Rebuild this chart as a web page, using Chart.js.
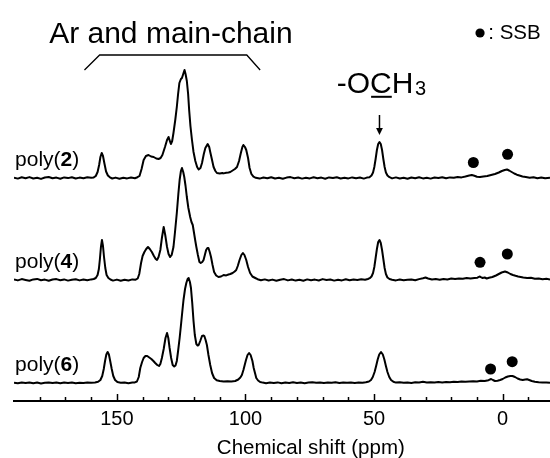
<!DOCTYPE html>
<html>
<head>
<meta charset="utf-8">
<script src="https://cdn.jsdelivr.net/npm/chart.js@4.4.1/dist/chart.umd.min.js"></script>
<style>
  body { margin: 0; background: #fff; }
  canvas { display: block; }
</style>
</head>
<body>
<canvas id="nmrChart" width="550" height="458"></canvas>
<script>
// Spectra as [chemical shift (ppm), intensity above the trace baseline]
const poly2 = [
    [190, 0.4], [188.5, -0.6], [187, 0.7], [185.5, -0.2], [184, 0.9], [182.5, -0.5], [181, 0.3], [179.5, -0.9],
    [178, 0.5], [176.5, 1.0], [175, -0.3], [173.5, 0.4], [172, -0.7], [170.5, 0.6], [169, -0.1], [167.5, 0.8],
    [166, -0.5], [164.5, 0.4], [163, -0.3], [161.5, 0.7], [160, 0.2],
    [159, 0.6], [158.2, 2], [157.5, 6], [156.9, 13], [156.4, 21], [155.9, 25], [155.4, 22], [154.8, 14],
    [154.2, 6.5], [153.5, 2.5], [152.7, 0.7],
    [151.8, -0.5], [150.5, 0.4], [149, -0.7], [147.5, 0.3], [146, -0.4], [144.5, 0.5], [143, -0.2], [142, 0.8],
    [141.2, 2], [140.4, 9], [139.6, 18], [138.7, 22], [137.7, 23], [136.7, 21.5], [135.7, 21], [134.7, 19.5],
    [133.8, 19], [133, 20], [132.3, 23], [131.3, 31], [130.5, 38], [129.9, 41], [129.4, 37], [129, 34],
    [128.5, 37], [128, 45], [127.3, 58], [126.7, 71], [126.2, 84], [125.7, 95], [125.1, 99], [124.7, 100],
    [124.2, 104], [123.7, 108], [123.3, 104], [122.8, 97], [122.3, 84], [121.9, 68], [121.4, 52], [120.8, 38],
    [120.2, 26], [119.5, 17], [118.8, 11], [118.2, 8.5], [117.5, 10], [116.9, 15], [116.2, 24], [115.6, 30],
    [114.7, 34], [114.1, 31], [113.7, 26], [113, 18], [112.4, 11], [111.7, 7], [111.1, 5], [110, 4.5],
    [109, 5], [108.5, 4.6], [107.5, 5.2], [106.6, 5.5], [105.9, 6], [105, 7.5], [104.1, 9], [103.3, 11],
    [102.5, 17], [101.8, 25], [101.2, 31], [100.8, 33], [100.2, 31], [99.7, 28], [99, 20], [98.4, 10],
    [97.7, 4], [96.9, 1.3], [96, 0.2],
    [94.5, -0.6], [93, 0.5], [91.5, -0.3], [90, 0.8], [88.5, -0.5], [87, 0.2], [85.5, -0.8], [84, 0.4],
    [82.5, 0.9], [81, -0.2], [79.5, 0.5], [78, -0.6], [76.5, 0.3], [75, -0.4], [73.5, 0.7], [72, -0.3],
    [70.5, 0.4], [69, -0.7], [67.5, 0.6], [66, 0], [64.5, 0.8], [63, -0.5], [61.5, 0.3], [60, -0.4],
    [58.5, 0.6], [57, -0.2], [55.5, 0.5], [54, -0.6], [52.8, 0.4],
    [51.8, 0.8], [51, 2.5], [50.4, 5.5], [49.9, 11], [49.4, 19], [48.9, 28], [48.4, 34], [47.9, 36],
    [47.4, 34], [46.9, 28], [46.4, 19], [45.9, 11], [45.4, 5.5], [44.8, 2.5], [44, 0.8],
    [43, -0.4], [41.5, 0.6], [40, -0.5], [38.5, 0.3], [37, -0.7], [35.5, 0.5], [34, -0.2], [32.5, 0.7],
    [31, -0.4], [29.5, 0.3], [28, -0.6], [26.5, 0.5], [25, 0], [23.5, 0.8], [22, -0.3], [20.5, 0.6],
    [19, 0.2], [17.5, 0.9], [16, 0.6],
    [14.5, 1.5], [13, 2.5], [12, 3], [11, 2.3], [10, 1.3], [8.8, 0.9], [7.5, 1.5],
    [6, 2], [4.5, 3], [3, 4], [1.5, 5.5], [0.3, 7], [-0.8, 8], [-1.7, 8.5], [-2.5, 7.5],
    [-3.5, 6], [-4.5, 4.5], [-5.5, 3.3], [-6.5, 2.5], [-7.7, 1.5], [-9, 1], [-10.5, 0.3], [-12, 0.8],
    [-13.5, -0.2], [-15, 0.5], [-16.5, -0.3], [-18.4, 0.3]
];

const poly4 = [
    [190, 0.5], [188.5, -0.4], [187, 0.9], [185.5, 0.1], [184, -0.7], [182.5, 0.6], [181, 1.1], [179.5, -0.3],
    [178, 0.4], [176.5, -0.8], [175, 0.5], [173.5, 0.9], [172, -0.2], [170.5, 0.6], [169, -0.6], [167.5, 0.3],
    [166, 0.8], [164.5, -0.4], [163, 0.5], [161.5, -0.3], [160, 0.6], [159, 1],
    [158.2, 2], [157.5, 5], [157, 11], [156.6, 21], [156.2, 33], [155.8, 40], [155.4, 34], [155, 23],
    [154.5, 12], [154, 5], [153.3, 2], [152.5, 0.5],
    [151.5, -0.6], [150, 0.4], [148.5, -0.8], [147, 0.2], [145.5, -0.5], [144, 0.6], [142.7, 0.3], [141.9, 1.5],
    [141.3, 6], [140.6, 17], [140, 24], [139.3, 28], [138.6, 31], [137.9, 33], [137.2, 31], [136.4, 28],
    [135.6, 24], [134.9, 21], [134.4, 20], [133.8, 23], [133.1, 30], [132.5, 42], [131.8, 53], [131.2, 45],
    [130.5, 33], [129.9, 26], [129.3, 23], [128.7, 25], [128, 33], [127.4, 48], [126.7, 67], [126.1, 86],
    [125.6, 100], [125.1, 109], [124.7, 112], [124.2, 108], [123.8, 103], [123.3, 94], [122.8, 83], [122.2, 72],
    [121.5, 63], [121, 58], [120.5, 55], [120, 47], [119.5, 39], [119.1, 33], [118.5, 25], [117.9, 18],
    [117.4, 17], [116.8, 18], [116.3, 20], [115.8, 25], [115.3, 30], [114.8, 32], [114.4, 32], [113.9, 28],
    [113.4, 23], [112.8, 15], [112.2, 8], [111.4, 4.5], [110.5, 3], [109.5, 3.5], [108.5, 5], [107.5, 4.6],
    [106.6, 5.5], [105.9, 6], [105, 7], [104.2, 8.5], [103.6, 10], [103, 14], [102.3, 20], [101.6, 25],
    [101, 27], [100.4, 25], [99.7, 20], [99, 13], [98.2, 7], [97.3, 3.5], [96.2, 2], [95.3, 0.8],
    [94, -0.3], [92.5, 0.6], [91, -0.5], [89.5, 0.4], [88, -0.8], [86.5, 0.3], [85, 0.9], [83.5, -0.4],
    [82, 0.5], [80.5, -0.6], [79, 0.2], [77.5, -0.7], [76, 0.6], [74.5, -0.3], [73, 0.4], [71.5, -0.5],
    [70, 0.9], [68.5, 0], [67, 0.5], [65.5, -0.6], [64, 0.3], [62.5, -0.4], [61, 0.7], [59.5, -0.3],
    [58, 0.5], [56.5, 0.1], [55, 0.7], [53.5, 0.3], [52.4, 1],
    [51.7, 1.8], [51, 3.5], [50.4, 7], [49.9, 13], [49.4, 22], [48.9, 31], [48.4, 38], [47.9, 40],
    [47.4, 37], [46.9, 30], [46.4, 21], [45.9, 12], [45.4, 6], [44.8, 2.5], [44, 1],
    [43, 0.3], [41.5, -0.4], [40, 0.5], [38.5, -0.3], [37, 0.2], [35.5, 0.6], [34, -0.2], [32.5, 0.9],
    [31, 1.8], [30, 2.5], [29, 1.5], [27.5, 0.5], [26, 0.9], [24.5, 0.3], [23, 1.1], [21.5, 0.6],
    [20, 1.4], [18.5, 1], [17, 1.6], [15.5, 1.2], [14, 1.9], [12.5, 1.5], [11, 2], [9.8, 2.3],
    [9, 3.5], [8.5, 2.8], [7.8, 2], [7, 2.5], [6.2, 1.5], [5.3, 2.2], [4, 3], [2.6, 4.5],
    [1.5, 6], [0.4, 7.5], [-0.9, 8.5], [-2, 7.5], [-3, 6], [-4, 5], [-5, 4.2], [-6, 3.5],
    [-7, 3], [-8, 2.5], [-9.5, 2], [-11, 2.2], [-12.5, 1.3], [-14, 1.6], [-15.5, 0.8], [-17, 1.2], [-18.4, 0.6]
];

const poly6 = [
    [190, 0.3], [188.5, -0.3], [187, 0.5], [185.5, 0], [184, 0.6], [182.5, -0.2], [181, 0.4], [179.5, -0.4],
    [178, 0.3], [176.5, 0.6], [175, -0.1], [173.5, 0.4], [172, -0.3], [170.5, 0.5], [169, 0.1], [167.5, 0.6],
    [166, -0.2], [164.5, 0.3], [163, 0], [161.5, 0.5], [160, 0.2], [158.5, 0.6],
    [157.3, 1.2], [156.4, 3], [155.7, 7], [155.1, 14], [154.6, 22], [154.1, 28.5], [153.6, 31], [153.1, 28.5],
    [152.6, 22], [152, 14], [151.4, 7], [150.7, 3], [149.8, 1],
    [148.5, 0.2], [147, 0.5], [145.5, -0.2], [144, 0.4], [143, 0.6], [142.2, 1.5],
    [141.5, 6], [140.9, 15], [140.2, 21], [139.6, 25], [138.9, 27], [138.2, 27], [137.4, 25.5], [136.6, 24],
    [135.8, 22], [135.1, 20], [134.3, 18], [133.6, 17], [133.1, 19], [132.5, 25], [131.8, 34], [131.1, 45],
    [130.5, 50], [130, 45], [129.5, 35], [128.9, 25], [128.3, 18], [127.7, 16.5], [127.2, 17.5], [126.7, 22],
    [126.2, 32], [125.6, 45], [125, 60], [124.5, 73], [124.1, 83], [123.5, 94], [123, 100], [122.5, 104],
    [122.1, 105], [121.6, 101], [121.2, 95], [120.7, 80], [120.2, 62], [119.7, 48], [119.1, 39], [118.6, 37.5],
    [118.2, 38], [117.6, 42], [116.9, 47], [116.3, 47.5], [116, 47], [115.5, 43], [115, 38], [114.4, 28],
    [113.7, 18], [113, 10], [112.2, 5], [111.2, 2.8], [110, 2], [108.5, 1.5], [107, 1.8], [105.5, 1.5],
    [104, 2], [102.8, 3.5], [102, 5.5], [101.4, 8], [100.8, 13], [100.3, 18], [99.8, 23], [99.2, 28],
    [98.6, 30], [98, 28], [97.3, 22], [96.8, 15], [96.2, 9], [95.8, 5], [95.1, 2.5], [94.3, 1], [93.3, 0.4],
    [92, -0.2], [90.5, 0.5], [89, 0], [87.5, 0.6], [86, -0.3], [84.5, 0.4], [83, 0.1], [81.5, 0.7],
    [80, 0], [78.5, 0.5], [77, -0.2], [75.5, 0.4], [74, 0.8], [72.5, 0.2], [71, 0.6], [69.5, -0.1],
    [68, 0.5], [66.5, 0.2], [65, 0.7], [63.5, 0], [62, 0.5], [60.5, 0.2], [59, 0.6], [57.5, 0.1],
    [56, 0.5], [54.5, 0.3], [53.2, 0.8],
    [52, 1.5], [51.2, 3], [50.5, 6], [49.8, 11], [49.2, 17], [48.6, 23.5], [48, 28.5], [47.3, 31],
    [46.6, 28.5], [46, 23.5], [45.4, 17], [44.8, 11], [44.1, 6], [43.4, 3], [42.5, 1.2],
    [41.5, 0.4], [40, 0.8], [38.5, 0.2], [37, 0.6], [35.5, 0.1], [34, 0.7], [32.5, 0.5], [31, 1.2],
    [29.5, 0.6], [28, 0.8], [26.5, 0.4], [25, 0.9], [23.5, 0.6], [22, 1.1], [20.5, 0.8], [19, 1.3],
    [17.5, 1], [16, 1.5], [14.5, 1.2], [13, 1.6], [11.5, 1.8], [10, 1.5], [8.5, 2.2], [7, 2],
    [5.5, 2.8], [4.5, 4], [3.8, 3], [3, 2], [2, 2.3], [1, 3], [0, 4], [-1, 5.5],
    [-2, 6.5], [-3, 7], [-3.8, 7], [-4.8, 6], [-5.8, 4.5], [-6.8, 3.5], [-7.8, 3], [-8.8, 3.5],
    [-9.5, 3.8], [-10.3, 3], [-11.3, 2], [-12.5, 1.3], [-14, 0.8], [-15.5, 0.5], [-17, 0.6], [-18.4, 0.3]
];

const seriesNames = ['2', '4', '6'];
const seriesData = [poly2, poly4, poly6];
const seriesOffset = [223, 121, 18];   // vertical stacking of the traces

// spinning side band markers [ppm, height above trace baseline]
const ssbMarks = [
    [[11.4, 15.5], [-1.9, 23.7]],
    [[8.8, 17.7], [-1.8, 26]],
    [[4.7, 14], [-3.7, 21.3]]
];

const tickLabels = [150, 100, 50, 0];
const minorTicks = [180, 170, 160, 150, 140, 130, 120, 110, 100, 90, 80, 70, 60, 50, 40, 30, 20, 10, 0, -10];

const FONT = "'Liberation Sans', Arial, Helvetica, sans-serif";

// annotations: labels, bracket, arrow, tick marks, axis title
const annotations = {
    id: 'annotations',
    afterDraw(chart) {
        const ctx = chart.ctx;
        const x = chart.scales.x, y = chart.scales.y;
        const px = v => x.getPixelForValue(v);
        const py = v => y.getPixelForValue(v);
        const axisY = chart.chartArea.bottom;
        ctx.save();
        ctx.fillStyle = '#000';
        ctx.strokeStyle = '#000';

        // tick marks pointing up
        ctx.lineWidth = 1.5;
        minorTicks.forEach(v => {
            const len = v % 50 === 0 ? 7 : 4;
            const xp = Math.round(px(v)) + 0.5;
            ctx.beginPath();
            ctx.moveTo(xp, axisY);
            ctx.lineTo(xp, axisY - len);
            ctx.stroke();
        });

        // axis title
        ctx.font = '20.5px ' + FONT;
        ctx.textAlign = 'center';
        ctx.textBaseline = 'alphabetic';
        ctx.fillText('Chemical shift (ppm)', px(74.6), axisY + 52.5);

        // trace labels poly(n)
        ctx.textAlign = 'left';
        seriesNames.forEach((n, i) => {
            const by = py(seriesOffset[i] + 12.5);
            let xx = px(189.6);
            ctx.font = '21px ' + FONT;
            ctx.fillText('poly(', xx, by);
            xx += ctx.measureText('poly(').width;
            ctx.font = 'bold 21px ' + FONT;
            ctx.fillText(n, xx, by);
            xx += ctx.measureText(n).width;
            ctx.font = '21px ' + FONT;
            ctx.fillText(')', xx, by);
        });

        // Ar and main-chain with bracket
        ctx.font = '30px ' + FONT;
        ctx.textAlign = 'center';
        ctx.fillText('Ar and main-chain', px(129), py(357.7));
        ctx.lineWidth = 1.3;
        ctx.beginPath();
        ctx.moveTo(px(162.6), py(331));
        ctx.lineTo(px(156.7), py(346));
        ctx.lineTo(px(99.5), py(346));
        ctx.lineTo(px(94.3), py(331));
        ctx.stroke();

        // -OCH3 label, arrow
        ctx.textAlign = 'left';
        ctx.font = '30px ' + FONT;
        let ox = px(64.5);
        const oy = py(307.7);
        ctx.fillText('-O', ox, oy);
        ox += ctx.measureText('-O').width;
        const cw = ctx.measureText('C').width;
        ctx.fillText('C', ox, oy);
        ctx.fillRect(ox + 1, oy + 2.5, cw - 1, 2);
        ox += cw;
        ctx.fillText('H', ox, oy);
        ox += ctx.measureText('H').width;
        ctx.font = '20px ' + FONT;
        ctx.fillText('3', ox + 1.5, oy + 2);

        const ax = px(47.9);
        ctx.lineWidth = 1.5;
        ctx.beginPath();
        ctx.moveTo(ax, py(286));
        ctx.lineTo(ax, py(272));
        ctx.stroke();
        ctx.beginPath();
        ctx.moveTo(ax - 3.4, py(273));
        ctx.lineTo(ax + 3.4, py(273));
        ctx.lineTo(ax, py(266));
        ctx.closePath();
        ctx.fill();

        // SSB key
        ctx.beginPath();
        ctx.arc(px(8.8), py(368), 4.6, 0, Math.PI * 2);
        ctx.fill();
        ctx.font = '20.5px ' + FONT;
        ctx.fillText(': SSB', px(5.6), py(361.7));

        ctx.restore();
    }
};

document.addEventListener('DOMContentLoaded', function() {
    const datasets = seriesData.map((s, i) => ({
        label: 'poly(' + seriesNames[i] + ')',
        data: s.map(p => ({ x: p[0], y: p[1] + seriesOffset[i] })),
        borderColor: '#000',
        borderWidth: 2,
        borderJoinStyle: 'round',
        pointRadius: 0,
        tension: 0,
        fill: false
    }));

    datasets.push({
        type: 'scatter',
        label: 'SSB',
        data: ssbMarks.flatMap((m, i) => m.map(p => ({ x: p[0], y: p[1] + seriesOffset[i] }))),
        backgroundColor: '#000',
        borderWidth: 0,
        pointRadius: 5.5
    });

    const ctx = document.getElementById('nmrChart').getContext('2d');
    new Chart(ctx, {
        type: 'line',
        data: { datasets: datasets },
        options: {
            responsive: false,
            animation: false,
            devicePixelRatio: 1,
            layout: { autoPadding: false, padding: { left: 14, right: 0, top: 0, bottom: 0 } },
            scales: {
                x: {
                    type: 'linear',
                    reverse: true,
                    min: -18.4,
                    max: 190,
                    afterBuildTicks: scale => { scale.ticks = tickLabels.map(v => ({ value: v })); },
                    afterFit: scale => { scale.height = 57; },
                    grid: { display: false, drawTicks: false },
                    border: { display: true, color: '#000', width: 2 },
                    ticks: {
                        color: '#000',
                        padding: 6,
                        autoSkip: false,
                        maxRotation: 0,
                        font: { family: FONT, size: 20 }
                    }
                },
                y: { display: false, min: 0, max: 401 }
            },
            plugins: {
                legend: { display: false },
                tooltip: { enabled: false }
            }
        },
        plugins: [annotations]
    });
});
</script>
</body>
</html>
